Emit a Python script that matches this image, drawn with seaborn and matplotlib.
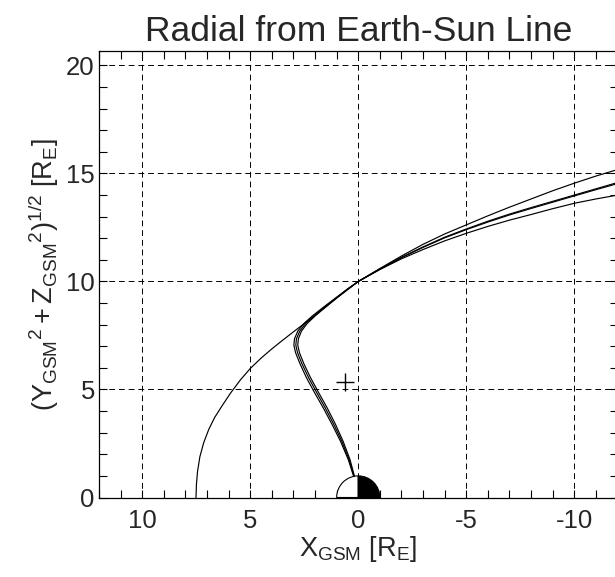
import numpy as np
import pandas as pd
import matplotlib
matplotlib.use("Agg")
import matplotlib.pyplot as plt
from matplotlib.patches import Wedge
from matplotlib.ticker import MultipleLocator
import seaborn as sns

# ---------------- data ----------------
# magnetopause boundary
mp_x = [7.51, 7.49, 7.44, 7.33, 7.15, 6.92, 6.65, 6.30, 5.90, 5.45, 5.00, 4.50,
        4.00, 3.50, 3.00, 2.50, 2.00, 1.50, 1.00, 0.50, 0.00, -1.0, -2.0, -3.0,
        -4.0, -5.0, -6.0, -7.0, -8.0, -9.0, -10.0, -11.0, -12.0]
mp_y = [0.00, 0.60, 1.20, 1.89, 2.55, 3.15, 3.70, 4.25, 4.85, 5.45, 5.97, 6.45,
        6.88, 7.28, 7.67, 8.05, 8.43, 8.82, 9.25, 9.65, 10.00, 10.57, 11.10, 11.58,
        12.02, 12.40, 12.75, 13.08, 13.38, 13.67, 13.96, 14.25, 14.53]

# cusp field lines (three neighbouring traces)
cusp_y = [1.00, 1.75, 2.60, 3.40, 4.15, 4.85, 5.55, 6.20, 6.70, 7.05, 7.35, 7.70,
          8.05, 8.40, 8.82, 9.25, 9.63, 10.00]
cusp_a_x = [0.22, 0.46, 0.82, 1.22, 1.62, 2.02, 2.40, 2.70, 2.90, 2.98, 2.95, 2.80,
            2.52, 2.13, 1.60, 1.03, 0.52, 0.00]
cusp_b_x = [0.20, 0.42, 0.76, 1.14, 1.53, 1.92, 2.30, 2.61, 2.81, 2.89, 2.86, 2.71,
            2.44, 2.06, 1.55, 1.00, 0.50, 0.00]
cusp_c_x = [0.18, 0.38, 0.70, 1.06, 1.44, 1.83, 2.21, 2.52, 2.72, 2.80, 2.77, 2.63,
            2.37, 2.00, 1.51, 0.97, 0.48, 0.00]

tail_x = [-1.0, -2.0, -3.0, -4.0, -5.0, -6.0, -7.0, -8.0, -9.0, -10.0, -11.0, -12.0]
tail_a_y = [10.60, 11.18, 11.72, 12.20, 12.62, 13.04, 13.44, 13.82, 14.20, 14.55, 14.88, 15.18]
tail_b_y = [10.58, 11.12, 11.60, 12.05, 12.43, 12.79, 13.12, 13.42, 13.71, 14.00, 14.29, 14.58]
tail_c_y = [10.55, 11.05, 11.48, 11.88, 12.23, 12.55, 12.84, 13.10, 13.37, 13.62, 13.82, 14.00]

# spacecraft position marker
sc_x = [0.62]
sc_y = [5.35]

x_ticks = [10, 5, 0, -5, -10]
y_ticks = [0, 5, 10, 15, 20]

title = "Radial from Earth-Sun Line"
xlabel = r"$\mathregular{X_{GSM}\ [R_E]}$"
ylabel = r"$\mathregular{(Y_{GSM}{}^{2} + Z_{GSM}{}^{2})^{1/2}\ [R_E]}$"

# ---------------- style ----------------
sns.set_style("ticks")
plt.rcParams["font.family"] = ["Liberation Sans", "DejaVu Sans"]
plt.rcParams["mathtext.fontset"] = "custom"
plt.rcParams["mathtext.rm"] = "Liberation Sans"
plt.rcParams["mathtext.it"] = "Liberation Sans"
plt.rcParams["mathtext.bf"] = "Liberation Sans"
plt.rcParams["axes.unicode_minus"] = False

fig = plt.figure(figsize=(6.15, 5.77), dpi=100)
W, H = 615.0, 577.0
x0, x1 = 99.0, 617.5
ytop, ybot = 51.0, 497.5
ax = fig.add_axes([x0 / W, (H - ybot) / H, (x1 - x0) / W, (ybot - ytop) / H])

lw = 0.85
sns.lineplot(x=mp_x, y=mp_y, sort=False, estimator=None, color="black", lw=lw, ax=ax)
for cx, ty in ((cusp_a_x, tail_a_y), (cusp_b_x, tail_b_y), (cusp_c_x, tail_c_y)):
    xs = list(cx) + list(tail_x)
    ys = list(cusp_y) + list(ty)
    sns.lineplot(x=xs, y=ys, sort=False, estimator=None, color="black", lw=lw, ax=ax)

sns.scatterplot(x=sc_x, y=sc_y, marker="+", s=150, color="black", linewidth=1.0, ax=ax, zorder=5)

# Earth: day side white, night side black
ax.add_patch(Wedge((0, 0), 1.0, 0, 90, facecolor="white", edgecolor="black", lw=0.8, zorder=4))
ax.add_patch(Wedge((0, 0), 1.0, 90, 180, facecolor="black", edgecolor="black", lw=0.8, zorder=4))

ax.set_xlim(12, -12)
ax.set_ylim(0, 20.67)

ax.xaxis.set_minor_locator(MultipleLocator(1))
ax.yaxis.set_minor_locator(MultipleLocator(1))
ax.set_xticks(x_ticks)
ax.set_yticks(y_ticks)
ax.set_xticklabels([str(v) for v in x_ticks])
ax.set_yticklabels([str(v) for v in y_ticks])

ax.tick_params(which="both", direction="in", top=True, right=True, length=6,
               width=0.8, color="black", labelsize=18.5)
ax.tick_params(axis="x", pad=8)
ax.tick_params(axis="y", pad=3)
ax.grid(True, which="major", color="black", linestyle=(0, (6, 4)), linewidth=0.7)
for s in ax.spines.values():
    s.set_color("black")
    s.set_linewidth(0.9)

ax.set_title(title, fontsize=25.5, pad=7)
ax.set_xlabel(xlabel, fontsize=19.5, labelpad=1)
ax.set_ylabel(ylabel, fontsize=19.5, labelpad=4)

fig.savefig("out.png", dpi=100)
